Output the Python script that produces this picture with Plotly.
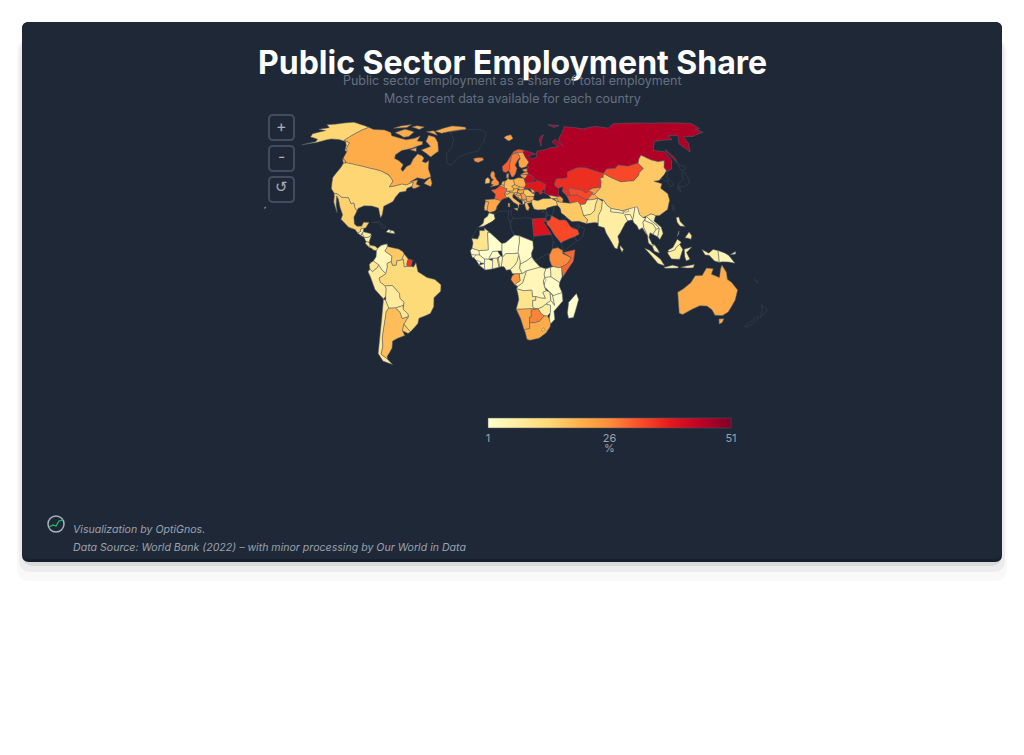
import plotly.graph_objects as go
from plotly.colors import sample_colorscale

# Estimated from the map colours. None = no data for that country.
countries = [
    "Greenland", "Canada", "United States", "Alaska", "Hawaii", "Mexico", "Guatemala", "Honduras", "El Salvador",
    "Nicaragua", "Costa Rica", "Panama", "Cuba", "Haiti", "Dominican Republic",
    "Colombia", "Venezuela", "Guyana", "Suriname", "French Guiana", "Brazil", "Ecuador", "Peru", "Bolivia",
    "Paraguay", "Chile", "Argentina", "Uruguay",
    "Iceland", "Svalbard", "United Kingdom", "Ireland", "France", "Spain", "Portugal", "Belgium", "Netherlands",
    "Germany", "Denmark", "Switzerland", "Austria", "Italy", "Poland", "Czechia", "Slovakia", "Hungary",
    "Slovenia", "Croatia", "Bosnia", "Serbia", "Montenegro", "Albania", "North Macedonia", "Greece", "Bulgaria",
    "Romania", "Moldova", "Ukraine", "Belarus", "Lithuania", "Latvia", "Estonia", "Norway", "Sweden", "Finland",
    "Russia", "Turkey", "Cyprus", "Georgia", "Armenia", "Azerbaijan", "Kazakhstan", "Uzbekistan", "Turkmenistan",
    "Kyrgyzstan", "Tajikistan", "Afghanistan", "Pakistan", "Iran", "Iraq", "Syria", "Jordan", "Lebanon", "Israel",
    "Saudi Arabia", "Yemen", "Oman", "UAE",
    "China", "Taiwan", "Mongolia", "North Korea", "South Korea", "Japan", "India", "Nepal", "Bhutan", "Bangladesh",
    "Sri Lanka", "Myanmar", "Thailand", "Laos", "Vietnam", "Cambodia", "Malaysia", "Indonesia", "Papua New Guinea",
    "Philippines", "Australia", "New Zealand", "New Caledonia",
    "Morocco", "Western Sahara", "Algeria", "Tunisia", "Libya", "Egypt", "Sudan", "South Sudan", "Eritrea",
    "Ethiopia", "Somalia", "Kenya", "Uganda", "Tanzania", "Rwanda", "DR Congo", "Congo", "Gabon", "Cameroon",
    "Central African Republic", "Chad", "Niger", "Nigeria", "Benin", "Togo", "Ghana", "Burkina Faso", "Mali",
    "Mauritania", "Senegal", "Guinea-Bissau", "Guinea", "Sierra Leone", "Liberia", "Ivory Coast", "Angola",
    "Zambia", "Malawi", "Zimbabwe", "Mozambique", "Namibia", "Botswana", "South Africa", "Lesotho", "Madagascar",
]
shares = [
    None, 21, 14, 14, 14, 15, 7, 8, 9,
    7, 12, 12, None, 4, 9,
    4, 16, 14, 35, None, 13, 9, 8, 8,
    9, 9, 18, 15,
    26, 22, 25, 18, 31, 22, 19, 21, 20,
    18, 26, 17, 18, 18, 20, 20, 20, 22,
    19, 22, 21, 24, 23, 15, 20, 19, 21,
    16, 20, 39, 43, 24, 25, 24, 31, 28, 22,
    46, 15, None, 16, 20, 24, 36, 33, 34,
    24, 22, 8, 12, 16, None, None, None, None, None,
    33, None, None, None,
    16, None, 33, None, None, None, 7, 4, 5, 3,
    9, 4, 6, 3, 7, 5, 7, 7, 4,
    7, 21, None, None,
    6, None, None, None, None, 40, None, None, None,
    26, 30, 5, 3, 2, 2, 4, 7, 24, 5,
    3, 2, 1, 5, 3, 3, 5, 2, 1,
    10, 3, 2, 3, 2, 2, 3, 10,
    6, 3, 7, 2, 22, 27, 21, 15, 1,
]

# Rough country outlines, "lon,lat lon,lat ..." (one string per landmass).
outlines = {
    "Greenland": ["-73,78 -60,82 -35,83.5 -20,81.5 -18,76 -22,70 -32,68 -40,65 -43,60 -48,61 -53,66 -52,70 -58,75"],
    "Canada": [
        "-141,69.6 -135,69 -128,70 -120,69.5 -115,68 -108,68 -100,68 -95,70 -94,72 -90,69 -85,69.5 -82,68 -87,64.5 -93,62 -94.5,59 -92.5,57 -88,56.5 -82.5,55 -82,52.5 -79.5,51.5 -79,54.5 -77,56 -78,59 -78,62.4 -73,62 -70,61 -69.5,59 -66,58.8 -64.5,60.3 -61,56 -57,53 -56,52 -60,50 -66,50 -70,47 -65,49 -64.5,46.5 -61,46 -64,44.3 -66,44 -67,45 -67.5,47.3 -70,46 -71.5,45 -75,45 -79,43.3 -83,42 -82.5,45.3 -84.5,46.5 -88.5,48.2 -95,49 -105,49 -115,49 -123,49 -128,51 -130,54.5 -133,56.5 -135.5,59.5 -139,60 -141,60.3",
        "-80,73.5 -70,71 -62,66.5 -65,62.5 -72,64 -78,65 -73,68 -82,70 -88,73.5",
        "-117,70 -105,69 -102,70 -105,73 -116,73",
        "-90,76.5 -80,76.5 -62,82 -70,83 -90,81.5",
        "-125,72 -118,74 -122,76 -125,74",
        "-59,47.7 -53,46.8 -53,48.7 -56,51.5 -58,49.5",
        "-128,50.7 -125,50 -123.5,48.5 -125.5,48.8",
        "-96,75 -80,74.8 -92,76.5",
        "-87,63.5 -81,63.5 -84,65.5",
        "-116,75 -106,75 -108,76.8 -116,76.3",
    ],
    "United States": ["-124.7,48.4 -123,49 -115,49 -105,49 -95,49 -88.5,48 -84.5,46.5 -82.5,45.3 -83,42 -79,43.3 -75,45 -71.5,45 -70,46 -67.5,47.3 -67,45 -70,43.5 -70,41.7 -74,40.6 -75.5,37.5 -76,35 -81,31.5 -80,27 -80.5,25.2 -82.5,28 -84,30 -89,30.3 -94,29.5 -97.3,27.5 -97.3,26 -99.5,27.5 -101.5,29.8 -103,29 -106.5,31.8 -111,31.3 -114.8,32.5 -117.1,32.5 -120.5,34.5 -122.5,37.5 -124.3,40.3 -124,46"],
    "Alaska": ["-141,69.6 -150,70.5 -156.5,71.3 -163,69 -166.5,68.3 -162,66.5 -166,65 -161,64.5 -165.5,62 -164,60 -158,59 -157,57.5 -163,55 -156,57 -152,59.3 -150,60 -145,60.3 -139,59.8 -135.5,58 -132,55 -130,54.7 -133,56.5 -135.5,59.5 -139,60 -141,60.3"],
    "Hawaii": ["-155.9,19.1 -155,19.7 -155.9,20.2"],
    "Mexico": ["-117.1,32.5 -114.8,32.5 -111,31.3 -106.5,31.8 -103,29 -101.5,29.8 -99.5,27.5 -97.3,26 -97.8,22.5 -96,19 -94,18.2 -91,18.7 -90.5,21 -87,21.5 -88,18.3 -89,17.9 -91,17.2 -90.5,16 -92.2,14.6 -94.5,16.2 -99,16.7 -105.5,20 -105.5,22.5 -109,26 -112.5,30 -114.7,31.5 -112.3,27 -109.5,23 -111,24.5 -114.5,28 -116,31"],
    "Guatemala": ["-92.2,14.6 -90.5,16 -91,17.2 -89.2,17.9 -89,15.9 -90,13.8"],
    "Honduras": ["-89,15.9 -84,15.8 -83.2,15 -85,13.5 -87.5,13 -89.3,14.5"],
    "El Salvador": ["-90,13.8 -89.3,14.5 -87.7,13.8 -88,13.2"],
    "Nicaragua": ["-87.5,13 -85,13.5 -83.2,15 -83.7,11 -85.7,11.1"],
    "Costa Rica": ["-85.7,11.1 -83.7,11 -82.6,9.5 -83,8.3 -85.7,9.9"],
    "Panama": ["-83,8.3 -82.6,9.5 -79.5,9.6 -77.4,8.7 -77.9,7.3 -80,7.4 -81,8"],
    "Cuba": ["-84.9,21.9 -80.5,23.1 -75,20.7 -77.7,19.9 -78.5,21.2 -82,22.5"],
    "Haiti": ["-74.4,18.4 -71.7,18.2 -71.7,19.8 -73,19.9"],
    "Dominican Republic": ["-71.7,18.2 -68.4,18.4 -69.5,19.7 -71.7,19.8"],
    "Colombia": ["-77.4,8.7 -75.5,10.7 -72,12.2 -71.3,11 -72.5,8 -70,7 -67.5,6 -67.5,3 -70,1.5 -69.5,-0.5 -70,-4.2 -73,-2.3 -75.2,-0.1 -78.8,1.4 -77.5,4 -77.9,7.3"],
    "Venezuela": ["-72,11.8 -71.5,10.8 -68,10.6 -64,10.5 -61,9.5 -60,8.4 -61,5.2 -60,5.2 -64,4 -64,1.5 -66.5,1 -67.5,3 -67.5,6 -70,7 -72.5,8 -71.3,11"],
    "Guyana": ["-60,8.4 -57,6 -57.5,3.2 -57,1.9 -59,1.3 -60,5.2 -61,5.2"],
    "Suriname": ["-57,6 -54,5.8 -54.4,2.2 -57,1.9 -57.5,3.2"],
    "French Guiana": ["-54,5.8 -51.8,4.6 -53,2.2 -54.4,2.2"],
    "Brazil": ["-51.8,4.6 -50,0 -44,-2.5 -39,-3 -35,-5.5 -35,-9 -39,-13 -39,-18 -41,-22 -48,-25.5 -48.7,-28.5 -53.4,-33.8 -57.5,-30.2 -54.6,-25.6 -55,-24 -58,-22 -57.5,-18 -60.2,-16.3 -60.5,-13.7 -65.3,-10 -69.7,-11 -73,-9.5 -74,-7.3 -70,-4.2 -69.5,-0.5 -70,1.5 -67.5,3 -66.5,1 -64,1.5 -64,4 -60,5.2 -59,1.3 -57,1.9 -54.4,2.2 -53,2.2"],
    "Ecuador": ["-78.8,1.4 -75.2,-0.1 -75.5,-1.5 -78.5,-4.5 -80.3,-3.4 -81,-1 -80,0.5"],
    "Peru": ["-80.3,-3.4 -78.5,-4.5 -75.5,-1.5 -75.2,-0.1 -73,-2.3 -70,-4.2 -74,-7.3 -73,-9.5 -69.7,-11 -69,-12.5 -69,-16.5 -70.4,-18.3 -76,-14 -79.5,-7.5 -81.3,-5"],
    "Bolivia": ["-69.7,-11 -65.3,-10 -60.5,-13.7 -60.2,-16.3 -57.5,-18 -58,-20 -62.7,-22 -67,-22.9 -69,-19 -69,-16.5 -69,-12.5"],
    "Paraguay": ["-58,-20 -58,-22 -55,-24 -54.6,-25.6 -58.5,-27.3 -60,-24 -62.7,-22"],
    "Chile": ["-70.4,-18.3 -69,-19 -67,-22.9 -68.5,-25 -70,-33 -71.5,-40 -71.5,-45 -73,-50 -69,-52.2 -65.5,-55 -72,-54 -75,-50 -73.5,-42 -71.5,-30"],
    "Argentina": ["-67,-22.9 -62.7,-22 -60,-24 -58.5,-27.3 -54.6,-25.6 -57.5,-30.2 -58.4,-34 -57,-36.5 -62,-39 -65,-41 -65.5,-45 -69,-50.5 -69,-52.2 -73,-50 -71.5,-45 -71.5,-40 -70,-33 -68.5,-25"],
    "Uruguay": ["-57.5,-30.2 -53.4,-33.8 -54.9,-35 -58.4,-34"],
    "Iceland": ["-24,65.5 -20,66.2 -15,66.3 -13.6,65 -18.7,63.4 -22.5,64"],
    "Svalbard": ["11,79 16,80 24,80.5 24,78 17,76.6 14,77.5"],
    "United Kingdom": ["-5.7,50 -1,50.7 1.4,51.2 1.7,52.7 -0.2,54 -2,56 -2,57.6 -3,58.6 -5,58.6 -6,56.5 -4.8,54.8 -3,54 -4.5,53.2 -5,51.7 -3,51.3"],
    "Ireland": ["-10,51.7 -6.2,52.2 -6,54 -8,55.3 -10,54.2"],
    "France": ["-1.8,43.4 -1.2,46 -4.7,48.4 -1.5,48.7 1.5,50.1 2.5,51 4.2,50 6,49.5 8.2,49 7.5,47.6 6,46.2 7.5,44 4,43.3 3.1,42.5"],
    "Spain": ["-9,43 -1.8,43.4 3.1,42.5 0,39.5 -0.7,37.6 -2,36.7 -5.5,36 -7.4,37.2 -7,39.5 -6.5,41.8 -8.8,41.9"],
    "Portugal": ["-8.8,41.9 -6.5,41.8 -7,39.5 -7.4,37.2 -9,37 -9.5,38.7"],
    "Belgium": ["2.5,51 4,51.4 6,50.8 6,49.5 4.2,50"],
    "Netherlands": ["3.5,51.4 4.7,53 7,53.3 6,50.8 4,51.4"],
    "Germany": ["6,50.8 7,53.3 8.8,54 9,54.9 11,54 14.2,53.9 14.8,51 12.2,50.3 13.7,48.7 13,47.6 7.5,47.6 8.2,49 6,49.5"],
    "Denmark": ["8.2,55 8.5,57.1 10.6,57.7 10.2,55"],
    "Switzerland": ["6,46.2 7.5,47.6 9.6,47.5 10.4,46.7 8.5,46"],
    "Austria": ["9.6,47.5 13,47.6 13.7,48.7 17,48.8 16.2,46.8 13.7,46.5 10.4,46.7"],
    "Italy": [
        "7.5,44 6,46.2 8.5,46 10.4,46.7 13.7,46.5 12.3,45.2 12.4,44 16,41.8 18.5,40 16.8,40.3 16,38 15.6,40 12.5,41.5 10.3,43.5 8.8,44.4",
        "12.5,38 15.6,38.2 15,36.7",
        "8.3,41 9.7,41 9.5,39 8.5,39",
    ],
    "Poland": ["14.2,53.9 18.5,54.8 23,54.3 24,50.5 22.5,49.2 19,49.4 14.8,51"],
    "Czechia": ["12.2,50.3 14.8,51 18.8,49.6 17,48.8 13.7,48.7"],
    "Slovakia": ["17,48.8 18.8,49.6 22.5,49.1 22,48.3 18.8,47.9"],
    "Hungary": ["16.2,46.8 17,48 18.8,47.9 22,48.3 21,46.2 18.8,45.9 16.5,46.5"],
    "Slovenia": ["13.7,46.5 16.2,46.8 15.5,45.5 13.6,45.5"],
    "Croatia": ["13.6,45.5 15.5,45.5 16.5,46.5 19,45.5 16,43.5 18.5,42.5 15,44.5"],
    "Bosnia": ["15.8,45 19,45 19.3,43 17.5,43"],
    "Serbia": ["19,45.9 21,46.2 22.7,44.3 22.7,42.5 20.7,42.3 19.3,43 19,45"],
    "Montenegro": ["18.5,42.5 19.3,43 20,42.5 19.3,41.9"],
    "Albania": ["19.3,41.9 20.5,42.3 21,40.6 19.5,39.9"],
    "North Macedonia": ["20.5,42.3 22.7,42.3 23,41.2 21,40.9"],
    "Greece": ["21,40.6 23,41.2 26.3,41.7 26,40.8 23,40.3 24,38 23,36.5 21.5,37 21,39"],
    "Bulgaria": ["22.7,44.2 27,44 28.6,43.4 27.8,42 26.3,41.7 23,41.2 22.7,42.3"],
    "Romania": ["21,46.2 22,48 24.9,47.8 28.2,45.5 29.5,45 28.6,43.7 27,44 22.7,44.2"],
    "Moldova": ["26.7,48.3 29.2,47.5 30,46.4 28.2,45.5"],
    "Ukraine": ["22.5,49.2 24,50.5 24,51.6 30.5,51.3 34,52.3 40,49.6 38.2,47 35,46.2 36.5,45.3 33.5,44.5 33,46 30.7,46.3 29.5,45.3 28.2,45.5 30,46.4 29.2,47.5 26.7,48.3 22,48.3"],
    "Belarus": ["23.5,53.9 24,55 28,56.1 31,55 32,53.3 30.5,51.3 24,51.6"],
    "Lithuania": ["21,55.3 21,56.4 25,56.3 26.5,55.5 24,54"],
    "Latvia": ["21,56.4 24.4,57.4 27.5,57.6 28,56.1 25,56.3"],
    "Estonia": ["23.5,59.2 28,59.4 27.5,57.6 24.4,57.9"],
    "Norway": ["5,61.5 10,64 14,67 19,70 25,71 31,70 29,69 25,69 20.5,69 16,68 14,65 12,62 12,60 11,59 8,58 5.5,58.7"],
    "Sweden": ["11,59 12,60 12,62 14,65 16,68 20.5,69 23.7,68 24,66 21.5,65 17.5,62 18.7,60 16.5,57 14.2,55.4 12.8,55.5"],
    "Finland": ["20.5,69 25,69 29,69 29.5,66 31.5,63 27.5,60.5 23,60 21,61 21.5,64 24,65.5 24,66 23.7,68"],
    "Russia": [
        "31,70 41,67 33,66.5 35,64.5 40,65 44,68.5 54,68.5 60,69 68,68.5 67,72 73,73 73,68 75,72 80,73.5 88,75 100,77 105,77.8 113,74 125,73.5 130,71 140,72.7 150,71.5 160,70 170,69.5 180,68.7 180,65 177,64.5 179,62.5 170,60 164,60 162,56 156.7,51 155.7,56 162,61 156,61.5 155,59 143,59.3 135,54.7 141,53 140,48 135,43.5 131,42.7 130.8,43 131,45 135,48.4 130.5,48.5 127,50 123.5,53.5 120,52 116.5,49.8 108,49.5 102,51.3 98,50 92,50.8 87.5,49 83,51 77,54 71,55 61,54 59,51 55,51 50,51.5 47,49 47,48 49,46.4 47.5,43 48.5,41.8 46,42 40,43.5 37,45 38.2,47 40,49.6 34,52.3 32,53.3 31,55 28,56.1 27.5,57.6 28,59.4 30,60 27.5,60.5 31.5,63 29.5,66 29,69",
        "52,71 56,73.5 68,77 60,76 55,74",
        "142,46 143.5,49 143,54 142,53",
        "95,79 105,79 100,81",
    ],
    "Turkey": ["26.3,41.7 28,42 31,41.2 35,42 41.5,41.5 44.7,39.7 44.8,37.2 42,37.2 36.7,36.6 36,36 32,36.2 30,36.3 27.3,37 26.3,39.5"],
    "Cyprus": ["32.5,35 34.5,35.6 33.5,34.6"],
    "Georgia": ["40,43.5 46,42 46,41 41.5,41.5"],
    "Armenia": ["43.5,41 45.5,41 46.5,39 44.7,39.7"],
    "Azerbaijan": ["46,42 48.5,41.8 50,40.4 49,38.5 46.5,39 45.5,41"],
    "Kazakhstan": ["47,49 50,51.5 55,51 59,51 61,54 71,55 77,54 83,51 87.5,49 85.5,47 83,47 82.5,45.3 80,42.2 74.5,43 70.5,42 68,41 66,43 61,44.3 58,45.5 56,45 56,41.3 53,42 51,44.5 53,46.8 49,46.4 47,48"],
    "Uzbekistan": ["56,45 58,45.5 61,44.3 66,43 68,41 70.5,42 73,40.5 71,39.5 68,38 67,37.3 64,38.8 61,41.2 56,41.3"],
    "Turkmenistan": ["53,42 56,41.3 61,41.2 64,38.8 67,37.3 64.5,35.5 61,35.6 60,37.5 54,37.4 53.8,40"],
    "Kyrgyzstan": ["70.5,42 74,42.8 80,42.2 74,39.6 71,39.5 73,40.5"],
    "Tajikistan": ["68,38 71,39.5 74,39.6 75,37.3 71.5,36.9 67.8,37.2"],
    "Afghanistan": ["61,35.6 64.5,35.5 67,37.3 71.5,36.9 74.8,37 71.5,34 69.5,31 66,29.5 61,29.5 61,31.5"],
    "Pakistan": ["61,29.5 66,29.5 69.5,31 71.5,34 74.8,37 77,35 74.5,31 71,28 69.5,24.2 67,24.8 61.6,25.1 63,27"],
    "Iran": ["44.7,39.7 46.5,39 49,38.5 54,37.4 60,37.5 61,35.6 61,31.5 61,29.5 63,27 61.6,25.1 57,27 52,27.5 49,30.4 46,33 46,35.5 44.8,37.2"],
    "Iraq": ["42,37.2 44.8,37.2 46,35.5 46,33 49,30.4 47,29 46,29 44,29.2 39,32.2 41,34.5"],
    "Syria": ["36.7,36.6 42,37.2 41,34.5 39,32.2 36.3,33.2 35.8,34.7"],
    "Jordan": ["35.2,32.7 39,32.2 37.5,30 35,29.5"],
    "Lebanon": ["35.2,33.2 36.3,33.2 35.8,34.7"],
    "Israel": ["34.3,31.3 35.2,33.2 35.2,32.7 35,29.5"],
    "Saudi Arabia": ["35,29.5 37.5,30 39,32.2 44,29.2 47,29 48.5,28.5 50.5,25 51.5,24.2 55,22.7 55.5,20 52,19 49,18.5 43.5,17.3 42.7,16.5 39,21.5 36.5,26 34.8,28"],
    "Yemen": ["43.5,17.3 49,18.5 52,19 53,16.7 45,12.8 43.3,12.7 42.7,16.5"],
    "Oman": ["52,19 55.5,20 55,22.7 56.3,24.5 59.7,22.5 57.7,19 55,17 53,16.7"],
    "UAE": ["51.5,24.2 54,24.2 56.3,25.8 56.3,24.5 55,22.7"],
    "China": ["73.5,39.5 74,39.6 80,42.2 82.5,45.3 83,47 85.5,47 87.5,49 91,46 96,42.7 105,41.7 111,44 112,45 117,46.7 116.5,49.8 120,52 123.5,53.5 127,50 130.5,48.5 135,48.4 131,45 130.8,43 128,41.5 124.3,40 121.5,39 118,39.2 122,37 119.5,35 122,31.5 121,28 117,23.5 110.5,21.3 108,21.6 105.5,23 102,22.3 99.5,22 98,24 98.5,28 92,28 88,27.8 81,30.3 79,32.5 78,35.5 75,37"],
    "Taiwan": ["120.2,23 121,25.2 122,25 120.9,22"],
    "Mongolia": ["87.5,49 92,50.8 98,50 102,51.3 108,49.5 116.5,49.8 117,46.7 112,45 111,44 105,41.7 96,42.7 91,46"],
    "North Korea": ["124.3,40 128,41.5 130.8,43 129.7,41 127.5,39.7 128.3,38.6 126.7,37.8 125,38"],
    "South Korea": ["126.7,37.8 128.3,38.6 129.4,36 128,34.8 126.3,34.6"],
    "Japan": [
        "131,34 135,33.5 140,35 141,38 141.4,41 140,41 137,37 132.5,35.5",
        "140,42 141.7,45.4 145,43.3 143,42",
        "130,33.5 131.7,33.3 130.7,31.1",
    ],
    "India": ["74.5,31 77,35 78,35.5 79,32.5 81,30.3 80,28.7 88,26.4 88,27.8 92,28 97,28.3 94,24 92.5,22 92,25 88.5,25.5 89,22 87,21 82,16.5 80,15 80,12 78,8.3 76.5,9 73,18 72.7,21 69,22.5 69.5,24.2 71,28"],
    "Nepal": ["81,30.3 88,27.8 88,26.4 80,28.7"],
    "Bhutan": ["88.8,27.3 92,28 92,26.8 89,26.7"],
    "Bangladesh": ["88.5,25.5 92,25 92.5,22 90,22 89,22"],
    "Sri Lanka": ["79.8,8.5 80.2,9.8 81.8,7.5 80.6,6"],
    "Myanmar": ["92.5,22 94,24 97,28.3 98.5,28 98,24 99.5,22 101,21.3 98.5,19.7 98,16.5 99,12 98,14 97,16.8 94.5,16 94,18.5 92.5,20.5"],
    "Thailand": ["100,20.3 104.5,17.5 105.5,14.5 102.5,12.2 101,13.3 99.5,11 100.5,7 102,6.3 100.3,6 98.3,8 98.7,11 99,12 98,16.5 98.5,19.7"],
    "Laos": ["101,21.3 102,22.3 103,20.7 106.7,16.5 107.5,14.5 105.5,14.5 104.5,17.5 100,20.3"],
    "Vietnam": ["102,22.3 105.5,23 108,21.6 105.7,19 109,15 109,11.5 106,8.7 105,10.3 107.5,14.5 106.7,16.5 103,20.7"],
    "Cambodia": ["102.5,12.2 105.5,14.5 107.5,14.5 105,10.3"],
    "Malaysia": [
        "100.3,6 102,6.3 103.4,3.5 104,1.4 101,3",
        "109.6,2 113,3 117,7 119,5 117.7,4 115,2.7 114,1.5 110,1",
    ],
    "Indonesia": [
        "95.3,5.6 98,4 104,-2 106,-6 102,-4",
        "105.3,-6.8 111,-6.5 114.5,-7.8 114.5,-8.7 106.5,-7.5",
        "109,1 110,1 114,1.5 115,2.7 117.7,4 119,1 116,-4 111,-3 109.5,-0.5",
        "120,1 125,1.5 121,-1 122.5,-5 120,-5.5 119.5,-3",
        "131,-0.8 135,-3.3 138,-1.6 141,-2.6 141,-9.1 138,-8 135,-4.5 132.5,-4",
        "116,-8.5 119,-8.3 125,-8.3 124,-10 120,-9.5",
    ],
    "Papua New Guinea": [
        "141,-2.6 145,-4.3 147.5,-6 151,-10.5 147,-9.5 143,-9 141,-9.1",
        "148.5,-5.6 152,-4.2 152,-5.5",
    ],
    "Philippines": [
        "120.5,18.5 122.2,18.5 122,16 124,13 121,13.7 120,16",
        "122,7 125.5,9.7 126.5,7.5 125.5,5.7 124,6.5",
        "117.3,8.4 119.5,11.3 119,10",
    ],
    "Australia": [
        "113.5,-22 114,-26 115.5,-34 118,-35 124,-33 129,-31.7 134,-32.5 138,-35 141,-38.3 146.5,-39 150,-37.3 153,-31 153.5,-25.5 149,-21 146,-19 145.3,-15 142.5,-10.8 141.5,-13 140.8,-17.5 135.5,-15 136.8,-12.2 132.5,-11.3 129.5,-15 125,-14.5 122,-18 117,-20.7",
        "144.7,-40.7 148.3,-40.9 148,-43 146,-43.6",
    ],
    "New Zealand": [
        "172.8,-34.5 178.5,-37.7 177,-39.5 175.3,-41.6 174.7,-38",
        "172.7,-40.6 174.3,-41.7 171,-45.5 168.5,-46.6 166.5,-46 170.5,-43",
    ],
    "New Caledonia": ["164,-20.2 167,-22.3 166,-22"],
    "Morocco": ["-5.9,35.8 -2,35.1 -1.2,32.5 -3.5,31 -8.7,28.7 -13,27.7 -9.7,30 -9.2,32.5 -6.8,34"],
    "Western Sahara": ["-13,27.7 -8.7,27.7 -8.7,26 -12,26 -12,23.5 -13,21.3 -17,21.4 -16,23.7"],
    "Algeria": ["-2,35.1 2,36.7 8.6,36.9 8,33 9.5,30 9.9,26.5 12,23.5 5.7,19.5 3.2,19 -4.8,25 -8.7,27.3 -8.7,28.7 -3.5,31 -1.2,32.5"],
    "Tunisia": ["8.6,36.9 11,37 10.2,34.3 11.5,33 9.5,30 8,33"],
    "Libya": ["11.5,33 15,32.3 20,32.8 25,31.7 25,20 24,19.5 15,23 12,23.5 9.9,26.5 9.5,30"],
    "Egypt": ["25,31.7 34.3,31.3 34.9,29.5 32.5,29.8 37,22 25,22"],
    "Sudan": ["25,22 37,22 37.5,18.5 36.5,14.3 34,11 33,12 27,9.5 24,8.7 22.5,13 24,19.5 24,20"],
    "South Sudan": ["24,8.7 27,9.5 33,12 34,11 34,8 35,5 31,3.7 27.5,5"],
    "Eritrea": ["37.5,18.5 39.5,15 43,12.5 40,14.5 36.5,14.3"],
    "Ethiopia": ["36.5,14.3 40,14.5 43,12.5 42.7,11 48,8 45,5 42,4 39,3.5 35,5 34,8 34,11"],
    "Somalia": ["43,11.5 51,12 49,6 41.5,-1.7 41,3.5 42,4 45,5 48,8"],
    "Kenya": ["34,4.2 36,4.5 39,3.5 41,3.5 41,-1.7 39.2,-4.7 33.9,-1 34,2"],
    "Uganda": ["31,3.7 34,4.2 34,2 33.9,-1 30,-1 29.7,1"],
    "Tanzania": ["30,-1 33.9,-1 39.2,-4.7 38.8,-6.5 40.4,-10.4 35,-11.5 32.8,-9.3 29.5,-6"],
    "Rwanda": ["29,-2.8 30,-1 30.8,-2.3 29.5,-4.4"],
    "DR Congo": ["12.2,-6 13,-4.7 16,-3 18,1.8 18.6,3.5 22.5,4.2 27.5,5 31,3.7 29.7,1 30,-1 29,-2.8 29.5,-6 30.7,-8.3 28.5,-9 30,-12.5 27,-12 24,-11 22,-11 21.7,-7.3 16.5,-7.3"],
    "Congo": ["11.2,-4 13,-2.5 14.5,-1.8 14,2.1 16,2.2 18.6,3.5 18,1.8 16,-3 13,-4.7"],
    "Gabon": ["9.5,1 11.3,2.2 14,2.1 14.5,-1.8 13,-2.5 11.2,-4 8.8,-1"],
    "Cameroon": ["8.5,4.7 9.8,2.3 16,2.2 14.5,5 15,9 14.2,12.8 12.8,8.7 11,6.7"],
    "Central African Republic": ["14.5,5 16,2.2 18.6,3.5 22.5,4.2 27.5,5 24,8.7 22.5,11 19,9 15,7.5"],
    "Chad": ["13.6,13.5 14.2,12.8 15,9 15,7.5 19,9 22.5,11 22.5,13 24,15.7 24,19.5 15,23 15,20"],
    "Niger": ["3.2,15 3.2,19 5.7,19.5 12,23.5 15,23 15,20 13.6,13.5 10,13.4 6,13.5 3.6,11.7"],
    "Nigeria": ["2.7,6.4 3.6,11.7 6,13.5 10,13.4 13.6,13.5 14.2,12.8 12.8,8.7 11,6.7 8.5,4.7 6,4.3 4.5,6.2"],
    "Benin": ["1.6,6.2 2.7,6.4 3.6,11.7 2.3,12.3 0.9,11"],
    "Togo": ["0,11 0.9,11 1.6,6.2 1.2,6"],
    "Ghana": ["-3,5.1 1.2,6 0,11.1 -2.8,11 -3,7"],
    "Burkina Faso": ["-5.5,10.4 -2.8,11 0,11.1 2.3,12.3 0.3,15 -3,14.7"],
    "Mali": ["-12,15 -11.5,12.5 -8,10.4 -5.5,10.4 -3,14.7 0.3,15 3.2,15 3.2,19 -4.8,25 -6.5,25 -5.8,15.5"],
    "Mauritania": ["-17,21.4 -13,21.3 -12,23.5 -12,26 -8.7,26 -8.7,27.3 -4.8,25 -6.5,25 -5.8,15.5 -12,15 -16.5,16 -16,19"],
    "Senegal": ["-17.5,14.7 -16.5,16 -12,15 -11.5,12.5 -16.7,12.4"],
    "Guinea-Bissau": ["-16.7,12.4 -13.7,12.5 -13.7,11 -16,11"],
    "Guinea": ["-13.7,12.5 -11.5,12.5 -8,10.4 -8,8 -10.7,8.3 -13.3,9.5 -15,10.9"],
    "Sierra Leone": ["-13.3,9.5 -10.7,9 -10.7,8.3 -11.4,6.9"],
    "Liberia": ["-11.4,6.9 -8,8 -8,6 -7.5,4.4"],
    "Ivory Coast": ["-8,8 -8,10.4 -5.5,10.4 -2.8,9.6 -3,5.1 -7.5,4.4 -8,6"],
    "Angola": ["12.2,-6 16.5,-7.3 21.7,-7.3 22,-11 24,-11 24,-13 22,-13 22,-16.2 23.3,-17.5 18.5,-17.4 11.8,-17.3 13.5,-12 13,-9"],
    "Zambia": ["22,-13 24,-13 24,-11 27,-12 30,-12.5 28.5,-9 30.7,-8.3 32.8,-9.3 33.3,-14 30.2,-15.6 28,-17 25.3,-17.8 23.3,-17.5 22,-16.2"],
    "Malawi": ["33,-9.5 34.5,-11.5 35,-14 35.5,-17 33.3,-14"],
    "Zimbabwe": ["25.3,-17.8 28,-17 30.2,-15.6 33,-16.5 32.8,-20.5 31,-22.3 29,-22 27,-20.5"],
    "Mozambique": ["40.4,-10.4 40.7,-15 35,-20 35.5,-24.5 32.8,-26.8 32,-24 32.8,-20.5 33,-16.5 30.2,-15.6 33.3,-14 35.5,-17 35,-14 34.5,-11.5"],
    "Namibia": ["11.8,-17.3 18.5,-17.4 23.3,-17.5 25.3,-17.8 21,-18.3 21,-22 20,-22 20,-28.4 16.5,-28.6 14.5,-22.5"],
    "Botswana": ["20,-22 21,-22 21,-18.3 25.3,-17.8 27,-20.5 29,-22 26,-24.7 23,-25.3 20,-25"],
    "South Africa": ["16.5,-28.6 20,-28.4 20,-25 23,-25.3 26,-24.7 29,-22 31,-22.3 32,-24 32.8,-26.8 32.5,-28.5 30,-31.5 25.7,-34 20,-34.8 18.3,-34 17.2,-30"],
    "Lesotho": ["27,-29.6 28.5,-28.6 29.4,-29.5 28,-30.5"],
    "Madagascar": ["49.3,-12 50.5,-15.5 47,-25 44,-25 43.3,-22 44.3,-16.2"],
}

CARD = "#1e2837"
W, H = 1024, 755
SCALE_MIN, SCALE_MAX = 1, 51


def parse_ring(text):
    pts = [tuple(float(v) for v in p.split(",")) for p in text.split()]
    # d3 treats counter-clockwise rings as "everything but this polygon"
    area = sum(a[0] * b[1] - b[0] * a[1] for a, b in zip(pts, pts[1:] + pts[:1]))
    if area > 0:
        pts.reverse()
    return pts + [pts[0]]


def rounded(x0, y0, x1, y1, r):
    fx = lambda v: f"{v / W:.5f}"
    fy = lambda v: f"{1 - v / H:.5f}"
    return (
        f"M {fx(x0 + r)} {fy(y0)} L {fx(x1 - r)} {fy(y0)} Q {fx(x1)} {fy(y0)} {fx(x1)} {fy(y0 + r)} "
        f"L {fx(x1)} {fy(y1 - r)} Q {fx(x1)} {fy(y1)} {fx(x1 - r)} {fy(y1)} "
        f"L {fx(x0 + r)} {fy(y1)} Q {fx(x0)} {fy(y1)} {fx(x0)} {fy(y1 - r)} "
        f"L {fx(x0)} {fy(y0 + r)} Q {fx(x0)} {fy(y0)} {fx(x0 + r)} {fy(y0)} Z"
    )


def box(x0, y0, x1, y1, r, fill="rgba(0,0,0,0)", line=None, width=0):
    return dict(type="path", xref="paper", yref="paper", layer="below", path=rounded(x0, y0, x1, y1, r),
                fillcolor=fill, line=dict(color=line or "rgba(0,0,0,0)", width=width))


def label(text, x, y, size, color, family="Inter", weight=None, xanchor="center"):
    return dict(text=text, x=x / W, y=1 - y / H, xref="paper", yref="paper", showarrow=False,
                xanchor=xanchor, yanchor="middle", font=dict(family=family, size=size, color=color, weight=weight))


assert len(countries) == len(shares)
fig = go.Figure()

for name, share in zip(countries, shares):
    lons, lats = [], []
    for ring in outlines[name]:
        pts = parse_ring(ring)
        lons += [p[0] for p in pts] + [None]
        lats += [p[1] for p in pts] + [None]
    if share is None:
        fill, edge = CARD, "#3f4a5a"
    else:
        t = (share - SCALE_MIN) / (SCALE_MAX - SCALE_MIN)
        fill, edge = sample_colorscale("YlOrRd", [t])[0], "#5b6472"
    fig.add_trace(go.Scattergeo(
        lon=lons[:-1], lat=lats[:-1], mode="lines", fill="toself", fillcolor=fill,
        line=dict(color=edge, width=0.5), name=name, showlegend=False,
        text=name if share is None else f"{name}: {share}%", hoverinfo="text",
    ))

# invisible markers only there to get the colour bar
known = [(n, s) for n, s in zip(countries, shares) if s is not None]
fig.add_trace(go.Scattergeo(
    lon=[parse_ring(outlines[n][0])[0][0] for n, _ in known],
    lat=[parse_ring(outlines[n][0])[0][1] for n, _ in known],
    mode="markers", showlegend=False, hoverinfo="skip",
    marker=dict(
        size=1, opacity=0, color=[s for _, s in known], colorscale="YlOrRd", cmin=SCALE_MIN, cmax=SCALE_MAX,
        colorbar=dict(
            orientation="h", x=609.5 / W, xanchor="center", y=1 - 418 / H, yanchor="top",
            len=243, lenmode="pixels", thickness=10, thicknessmode="pixels",
            tickvals=[1, 26, 51], ticks="", outlinecolor="#4b5563", outlinewidth=0.5,
            tickfont=dict(family="Inter", size=11, color="#9ca3af"),
            xpad=0, ypad=0,
        ),
    ),
))

shapes = []
for spread, bottom, alpha in [(5, 581, 0.025), (3, 572, 0.05), (0, 566, 0.08)]:
    shapes.append(box(22 - spread, 40, 1002 + spread, bottom, 12, f"rgba(0,0,0,{alpha})"))
shapes.append(box(22, 22, 1002, 562, 7, "#171f2b"))
shapes.append(box(22, 22, 1002, 559, 7, CARD))
for top in [115, 146, 177]:
    shapes.append(box(269, top, 294, top + 25, 4, "rgba(0,0,0,0)", "#424c5c", 2))
shapes.append(dict(type="circle", xref="paper", yref="paper", layer="above",
                   x0=48 / W, x1=64 / W, y0=1 - 532 / H, y1=1 - 516 / H, line=dict(color="#aab2bd", width=1.5)))
shapes.append(dict(type="path", xref="paper", yref="paper", layer="above",
                   path=" ".join(f"{c} {x / W:.5f} {1 - y / H:.5f}" for c, x, y in
                                 [("M", 49, 527), ("L", 53, 525), ("L", 56, 526), ("L", 59, 521), ("L", 63, 520)]),
                   line=dict(color="#22c55e", width=1.2)))

annotations = [
    label("Public Sector Employment Share", 512, 62.5, 32, "#ffffff", weight=700),
    label("Public sector employment as a share of total employment", 512, 80.5, 12.5, "#667080"),
    label("Most recent data available for each country", 512, 98.5, 12.5, "#667080"),
    label("+", 281.5, 126, 16, "#a7afba"),
    label("-", 281.5, 156, 16, "#a7afba"),
    label("↺", 281.5, 187, 15, "#a7afba", family="DejaVu Sans"),
    label("%", 609, 448, 11, "#9ca3af"),
    label("<i>Visualization by OptiGnos.</i>", 71, 529, 10.6, "#9ca3af", xanchor="left"),
    label("<i>Data Source: World Bank (2022) – with minor processing by Our World in Data</i>",
          71, 547, 10.6, "#9ca3af", xanchor="left"),
]

fig.update_layout(
    width=W, height=H, margin=dict(l=0, r=0, t=0, b=0, autoexpand=False),
    paper_bgcolor="#ffffff", plot_bgcolor="#ffffff", showlegend=False,
    shapes=shapes, annotations=annotations,
    geo=dict(
        projection=dict(type="natural earth", rotation=dict(lon=0, lat=10)), bgcolor="rgba(0,0,0,0)",
        domain=dict(x=[214 / W, 780 / W], y=[1 - 407 / H, 1 - 113 / H]),
        showframe=False, showland=False, showcountries=False, showcoastlines=False,
        showocean=False, showlakes=False, showrivers=False, showsubunits=False,
        lonaxis=dict(showgrid=False), lataxis=dict(showgrid=False),
    ),
)

fig.write_html("out.html", config=dict(displayModeBar=False),
               post_script="document.body.style.margin='0';document.body.style.overflow='hidden';")
